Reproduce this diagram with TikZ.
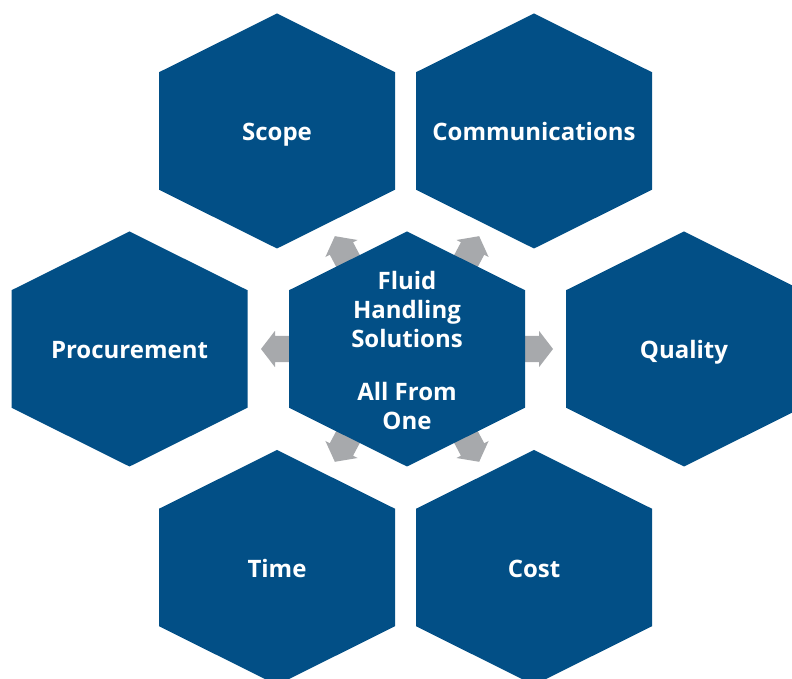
\documentclass[tikz,border=0pt]{standalone}
\usepackage{fontspec}
\setmainfont{Open Sans}
\usetikzlibrary{calc}
\definecolor{hexblue}{RGB}{2,79,134}
\definecolor{arrgrey}{RGB}{167,169,172}
\begin{document}
\begin{tikzpicture}[x=1pt,y=1pt,
  hexagon/.pic={\fill[hexblue] (0,117.5) -- (118,58.75) -- (118,-58.75) -- (0,-117.5) -- (-118,-58.75) -- (-118,58.75) -- cycle;},
  blockarrow/.pic={\fill[arrgrey] (-20,-13.2) -- (14,-13.2) -- (14,-18.2) -- (28,0) -- (14,18.2) -- (14,13.2) -- (-20,13.2) -- cycle;},
  lbl/.style={text=white, font=\fontsize{24}{29}\selectfont\bfseries, inner sep=0pt, text height=17pt, text depth=0pt, yshift=-1.5pt},
  ctrlbl/.style={text=white, font=\fontsize{24}{29}\selectfont\bfseries, inner sep=0pt, align=center}]
\useasboundingbox (0,0) rectangle (792,679);
\clip (0,0) rectangle (792,679);
\coordinate (c) at (407,330);
% arrows (below hexagons)
\pic[rotate=180] at ($(c)+(-118,0)$) {blockarrow};
\pic[rotate=0] at ($(c)+(118,0)$) {blockarrow};
\pic[rotate=118] at ($(c)+(-59,88.1)$) {blockarrow};
\pic[rotate=62] at ($(c)+(59,88.1)$) {blockarrow};
\pic[rotate=242] at ($(c)+(-59,-88.1)$) {blockarrow};
\pic[rotate=298] at ($(c)+(59,-88.1)$) {blockarrow};
% hexagons
\pic at (277,548) {hexagon};
\pic at (534,548) {hexagon};
\pic at (129.5,330) {hexagon};
\pic at (c) {hexagon};
\pic at (684,330) {hexagon};
\pic at (277,111.5) {hexagon};
\pic at (534,111.5) {hexagon};
% labels
\node[lbl] (scope) at (277,548) {Scope};
\node[lbl] (comm) at (534,548) {Communications};
\node[lbl] (proc) at (129.5,330) {Procurement};
\node[lbl] (qual) at (684,330) {Quality};
\node[lbl] (time) at (277,111.5) {Time};
\node[lbl] (cost) at (534,111.5) {Cost};
\node[ctrlbl] (ctr) at (407,328.5) {Fluid\\Handling\\Solutions\\[23.7pt]All From\\One};
\end{tikzpicture}
\end{document}
